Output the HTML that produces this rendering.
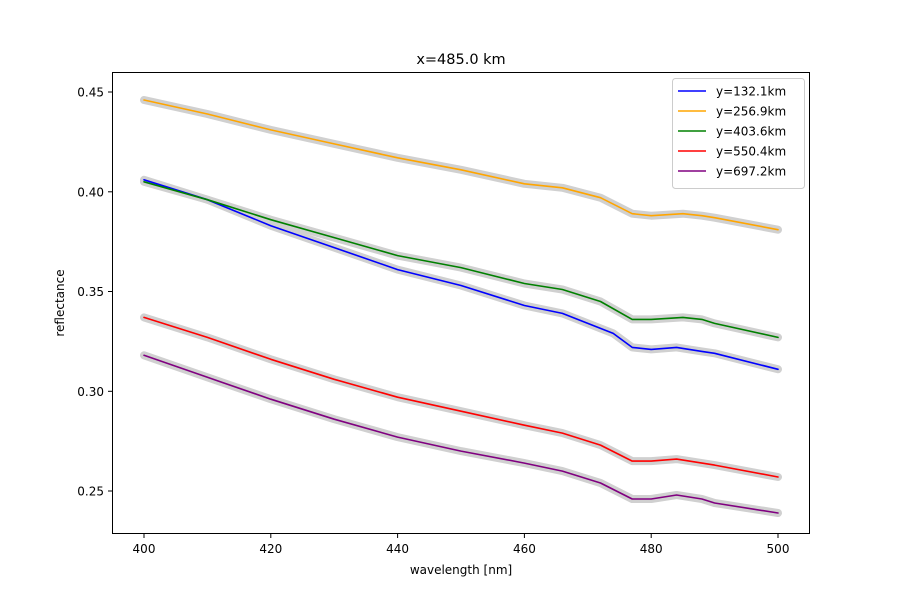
<!DOCTYPE html>
<html><head><meta charset="utf-8"><style>
html,body{margin:0;padding:0;background:#fff}
svg{display:block;font-family:"DejaVu Sans","Liberation Sans",sans-serif}
</style></head><body>
<svg width="900" height="600" viewBox="0 0 900 600" xmlns="http://www.w3.org/2000/svg">
<rect width="900" height="600" fill="#fff"/>
<text x="461" y="64" font-size="14.5" text-anchor="middle">x=485.0 km</text>
<g fill="none" stroke-linejoin="round" stroke-linecap="round">
<g stroke="#d0d0d0" stroke-width="8">
<polyline points="144,179.8 207.4,199.7 270.8,225.7 334.2,247.6 397.6,269.6 461,285.5 524.4,305.5 562.4,313.4 587.8,323.4 613.2,333.4 632.2,347.4 651.2,349.4 676.6,347.4 701.9,351.4 714.6,353.3 778,369.3"/>
<polyline points="144,100 207.4,114 270.8,129.9 334.2,143.9 397.6,157.8 461,169.8 524.4,183.8 562.4,187.8 600.5,197.7 632.2,213.7 651.2,215.7 682.9,213.7 701.9,215.7 714.6,217.7 778,229.7"/>
<polyline points="144,181.8 207.4,199.7 270.8,219.7 334.2,237.6 397.6,255.6 461,267.6 524.4,283.5 562.4,289.5 600.5,301.5 632.2,319.4 651.2,319.4 682.9,317.4 701.9,319.4 714.6,323.4 778,337.4"/>
<polyline points="144,317.4 207.4,337.4 270.8,359.3 334.2,379.3 397.6,397.2 461,411.2 524.4,425.2 562.4,433.1 600.5,445.1 632.2,461.1 651.2,461.1 676.6,459.1 701.9,463.1 714.6,465.1 778,477"/>
<polyline points="144,355.3 207.4,377.3 270.8,399.2 334.2,419.2 397.6,437.1 461,451.1 524.4,463.1 562.4,471.1 600.5,483 632.2,499 651.2,499 676.6,495 701.9,499 714.6,503 778,513"/>
</g>
<g stroke-width="1.6">
<polyline stroke="#0000ff" points="144,179.8 207.4,199.7 270.8,225.7 334.2,247.6 397.6,269.6 461,285.5 524.4,305.5 562.4,313.4 587.8,323.4 613.2,333.4 632.2,347.4 651.2,349.4 676.6,347.4 701.9,351.4 714.6,353.3 778,369.3"/>
<polyline stroke="#ffa500" points="144,100 207.4,114 270.8,129.9 334.2,143.9 397.6,157.8 461,169.8 524.4,183.8 562.4,187.8 600.5,197.7 632.2,213.7 651.2,215.7 682.9,213.7 701.9,215.7 714.6,217.7 778,229.7"/>
<polyline stroke="#008000" points="144,181.8 207.4,199.7 270.8,219.7 334.2,237.6 397.6,255.6 461,267.6 524.4,283.5 562.4,289.5 600.5,301.5 632.2,319.4 651.2,319.4 682.9,317.4 701.9,319.4 714.6,323.4 778,337.4"/>
<polyline stroke="#ff0000" points="144,317.4 207.4,337.4 270.8,359.3 334.2,379.3 397.6,397.2 461,411.2 524.4,425.2 562.4,433.1 600.5,445.1 632.2,461.1 651.2,461.1 676.6,459.1 701.9,463.1 714.6,465.1 778,477"/>
<polyline stroke="#800080" points="144,355.3 207.4,377.3 270.8,399.2 334.2,419.2 397.6,437.1 461,451.1 524.4,463.1 562.4,471.1 600.5,483 632.2,499 651.2,499 676.6,495 701.9,499 714.6,503 778,513"/>
</g>
</g>
<rect x="112.5" y="72.5" width="697" height="461" fill="none" stroke="#000" stroke-width="1"/>
<g stroke="#000" stroke-width="1">
<line x1="144" y1="534" x2="144" y2="538"/><line x1="270.8" y1="534" x2="270.8" y2="538"/><line x1="397.6" y1="534" x2="397.6" y2="538"/><line x1="524.4" y1="534" x2="524.4" y2="538"/><line x1="651.2" y1="534" x2="651.2" y2="538"/><line x1="778" y1="534" x2="778" y2="538"/>
<line x1="108" y1="491" x2="112" y2="491"/><line x1="108" y1="391.3" x2="112" y2="391.3"/><line x1="108" y1="291.5" x2="112" y2="291.5"/><line x1="108" y1="191.8" x2="112" y2="191.8"/><line x1="108" y1="92" x2="112" y2="92"/>
</g>
<g font-size="12" text-anchor="middle">
<text x="144" y="553">400</text><text x="270.8" y="553">420</text><text x="397.6" y="553">440</text><text x="524.4" y="553">460</text><text x="651.2" y="553">480</text><text x="778" y="553">500</text>
<text x="461" y="574">wavelength [nm]</text>
</g>
<g font-size="12" text-anchor="end">
<text x="104" y="495.5">0.25</text><text x="104" y="395.8">0.30</text><text x="104" y="296">0.35</text><text x="104" y="196.3">0.40</text><text x="104" y="96.5">0.45</text>
</g>
<text transform="translate(64,303) rotate(-90)" font-size="12" text-anchor="middle">reflectance</text>
<rect x="672.5" y="78.5" width="132" height="110" rx="3" fill="#fff" stroke="#ccc"/>
<g stroke-width="1.6">
<line x1="678" y1="91" x2="706" y2="91" stroke="#0000ff"/>
<line x1="678" y1="111" x2="706" y2="111" stroke="#ffa500"/>
<line x1="678" y1="131" x2="706" y2="131" stroke="#008000"/>
<line x1="678" y1="151" x2="706" y2="151" stroke="#ff0000"/>
<line x1="678" y1="171" x2="706" y2="171" stroke="#800080"/>
</g>
<g font-size="12">
<text x="716" y="95.5">y=132.1km</text><text x="716" y="115.5">y=256.9km</text><text x="716" y="135.5">y=403.6km</text><text x="716" y="155.5">y=550.4km</text><text x="716" y="175.5">y=697.2km</text>
</g>
</svg>
</body></html>
